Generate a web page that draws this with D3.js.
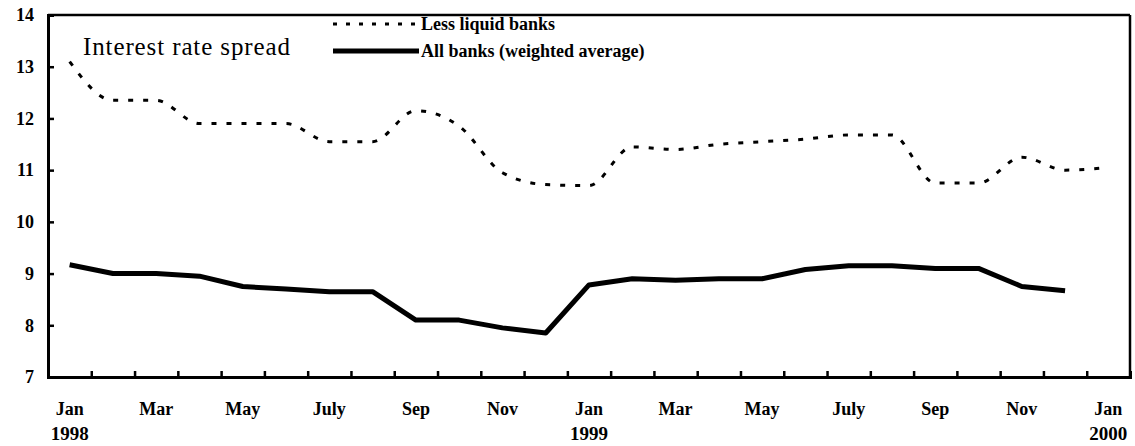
<!DOCTYPE html>
<html>
<head>
<meta charset="utf-8">
<script src="https://cdn.jsdelivr.net/npm/d3@7"></script>
<style>
  body { margin: 0; background: #fff; }
  svg text { fill: #000; }
</style>
</head>
<body>
<div id="chart-area"></div>
<script>
// months Jan 1998 .. Jan 2000
const months = d3.range(25).map(i => `${1998 + Math.floor(i / 12)}-${String(i % 12 + 1).padStart(2, "0")}`)
const monthLabels = ["Jan", "", "Mar", "", "May", "", "July", "", "Sep", "", "Nov", "",
  "Jan", "", "Mar", "", "May", "", "July", "", "Sep", "", "Nov", "", "Jan"]
const yearLabels = { "1998-01": "1998", "1999-01": "1999", "2000-01": "2000" }

// interest rate spread, percent
const lessLiquid = [13.1, 12.35, 12.35, 11.9, 11.9, 11.9, 11.55, 11.55, 12.15, 11.85, 10.95, 10.72,
  10.7, 11.45, 11.4, 11.5, 11.55, 11.6, 11.68, 11.68, 10.75, 10.75, 11.25, 11.0, 11.05]
const allBanks = [9.17, 9.0, 9.0, 8.95, 8.75, 8.7, 8.65, 8.65, 8.1, 8.1, 7.95, 7.85,
  8.78, 8.9, 8.87, 8.9, 8.9, 9.08, 9.15, 9.15, 9.1, 9.1, 8.75, 8.67]
const yTicks = [7, 8, 9, 10, 11, 12, 13, 14]

const MARGIN = { LEFT: 48, RIGHT: 5, TOP: 15, BOTTOM: 69 }
const W = 1135, H = 446
const WIDTH = W - MARGIN.LEFT - MARGIN.RIGHT
const HEIGHT = H - MARGIN.TOP - MARGIN.BOTTOM
const SERIF = '"Liberation Serif", "Times New Roman", serif'

const svg = d3.select("#chart-area").append("svg")
  .attr("width", W)
  .attr("height", H)
  .style("font-family", SERIF)

const g = svg.append("g")
  .attr("transform", `translate(${MARGIN.LEFT}, ${MARGIN.TOP})`)

// scales
const x = d3.scaleBand().domain(months).range([0, WIDTH]).padding(0)
const xEdge = d3.scaleLinear().domain([0, months.length]).range([0, WIDTH])
const y = d3.scaleLinear().domain([7, 14]).range([HEIGHT, 0])
const cx = m => x(m) + x.bandwidth() / 2

// frame (top and right)
g.append("line").attr("x1", 0).attr("x2", WIDTH).attr("y1", 0).attr("y2", 0)
  .attr("stroke", "#000").attr("stroke-width", 2.5)
g.append("line").attr("x1", WIDTH).attr("x2", WIDTH).attr("y1", 0).attr("y2", HEIGHT)
  .attr("stroke", "#000").attr("stroke-width", 2.5)

// y axis, ticks inside
const yAxis = g.append("g")
  .call(d3.axisLeft(y).tickValues(yTicks).tickSize(-6).tickPadding(14).tickFormat(d3.format("d")))
yAxis.attr("font-family", null)
yAxis.select(".domain").attr("stroke-width", 3)
yAxis.selectAll(".tick line").attr("stroke-width", 2.5)
yAxis.selectAll("text").attr("font-size", "18px").attr("font-weight", "bold")
  .style("font-family", SERIF)

// x axis tick marks at month boundaries, inside
const xAxis = g.append("g")
  .attr("transform", `translate(0, ${HEIGHT})`)
  .call(d3.axisBottom(xEdge).tickValues(d3.range(1, months.length)).tickSize(-6).tickFormat(""))
xAxis.select(".domain").attr("stroke-width", 3)
xAxis.selectAll(".tick line").attr("stroke-width", 2.5)

// month labels centred in bands
const xLab = g.append("g")
  .attr("transform", `translate(0, ${HEIGHT})`)
  .call(d3.axisBottom(x).tickSize(0).tickPadding(0).tickFormat((d, i) => monthLabels[i]))
xLab.attr("font-family", null)
xLab.select(".domain").remove()
xLab.selectAll("text")
  .attr("font-size", "18px").attr("font-weight", "bold")
  .style("font-family", SERIF)
  .attr("dy", null).attr("y", 38)
xLab.selectAll(".tick").filter(d => yearLabels[d])
  .append("text")
  .attr("y", 63)
  .attr("text-anchor", "middle")
  .attr("font-size", "19px").attr("font-weight", "bold")
  .style("font-family", SERIF)
  .attr("fill", "#000")
  .text(d => yearLabels[d])

// lines
const lineLess = d3.line()
  .x((d, i) => cx(months[i]))
  .y(d => y(d))
  .curve(d3.curveMonotoneX)
const lineAll = d3.line()
  .x((d, i) => cx(months[i]))
  .y(d => y(d))

g.append("path")
  .attr("d", lineLess(lessLiquid))
  .attr("fill", "none")
  .attr("stroke", "#000")
  .attr("stroke-width", 3)
  .attr("stroke-dasharray", "5,10")

g.append("path")
  .attr("d", lineAll(allBanks))
  .attr("fill", "none")
  .attr("stroke", "#000")
  .attr("stroke-width", 5)
  .attr("stroke-linejoin", "round")

// title and legend
svg.append("text")
  .attr("x", 83).attr("y", 55)
  .attr("font-size", "25px")
  .attr("textLength", 207)
  .style("font-family", SERIF)
  .text("Interest rate spread")

const legend = [
  { label: "Less liquid banks", dash: "4,9", width: 3, y: 24 },
  { label: "All banks (weighted average)", dash: null, width: 5, y: 51 }
]
const lg = svg.append("g")
legend.forEach(l => {
  lg.append("line")
    .attr("x1", 333).attr("x2", 419)
    .attr("y1", l.y).attr("y2", l.y)
    .attr("stroke", "#000")
    .attr("stroke-width", l.width)
    .attr("stroke-dasharray", l.dash)
  lg.append("text")
    .attr("x", 421).attr("y", l.y + 6)
    .attr("font-size", "18px").attr("font-weight", "bold")
    .style("font-family", SERIF)
    .text(l.label)
})
</script>
</body>
</html>
